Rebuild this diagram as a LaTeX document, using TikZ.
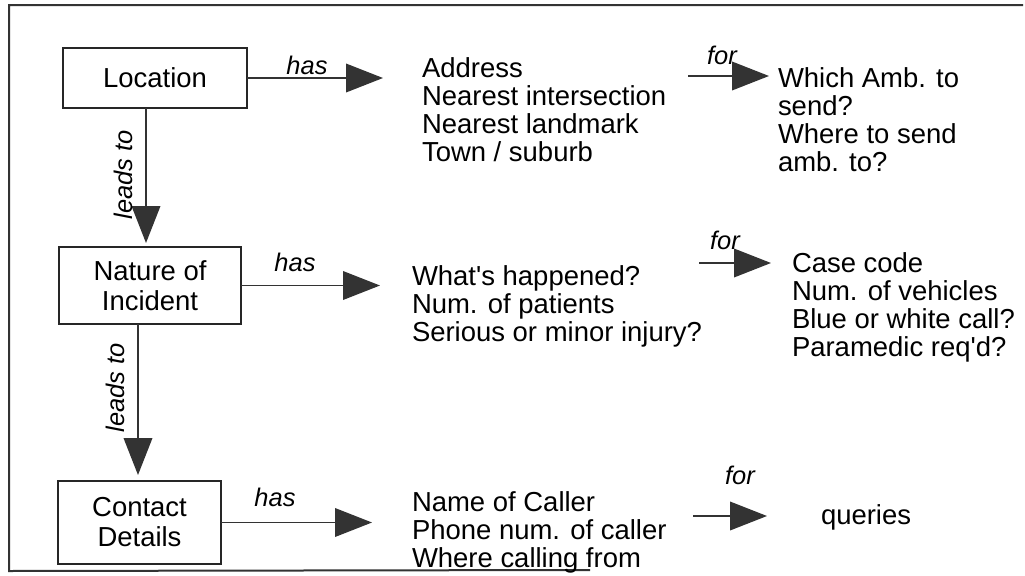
\documentclass[tikz,border=0pt]{standalone}
\usepackage{fontspec}
\setmainfont{Liberation Sans}
\usetikzlibrary{arrows.meta}
\begin{document}
\begin{tikzpicture}[x=0.75pt,y=-0.75pt,
  every node/.style={inner sep=0pt, outer sep=0pt},
  frameline/.style={draw=black!80, line width=1.5pt},
  concept/.style={draw=black!85, line width=1.4pt, align=center,
    font=\fontsize{20.6}{22.5}\selectfont},
  txt/.style={anchor=base west, font=\fontsize{20.6}{20.4}\selectfont},
  rel/.style={font=\itshape\fontsize{19.1}{22}\selectfont},
  arr/.style={draw=black!80, line width=1.1pt,
    -{Triangle[length=27.75pt,width=21.5pt]}}]
\useasboundingbox (0,0) rectangle (1025,575);
% outer frame
\draw[frameline] (590,570) -- (9,571) -- (9,5) -- (1023,5);
% concept boxes
\node[concept, minimum width=138pt, minimum height=45pt] (loc) at (155,78) {Location};
\node[concept, minimum width=136.5pt, minimum height=57.75pt] (nat) at (150,285.5) {Nature of\\Incident};
\node[concept, minimum width=122.25pt, minimum height=62.25pt] (con) at (139.5,522.5) {Contact\\Details};
% text blocks
\node[txt] (addr) at (422,77) {\begin{tabular}[t]{@{}l@{}}Address\\Nearest intersection\\Nearest landmark\\Town / suburb\end{tabular}};
\node[txt, font=\fontsize{20.6}{20.8}\selectfont] (amb) at (778,87) {\begin{tabular}[t]{@{}l@{}}Which Amb. to\\send?\\Where to send\\amb. to?\end{tabular}};
\node[txt] (what) at (412,285) {\begin{tabular}[t]{@{}l@{}}What\textquotesingle s happened?\\Num. of patients\\Serious or minor injury?\end{tabular}};
\node[txt, font=\fontsize{20.6}{21}\selectfont] (case) at (792,272) {\begin{tabular}[t]{@{}l@{}}Case code\\Num. of vehicles\\Blue or white call?\\Paramedic req\textquotesingle d?\end{tabular}};
\node[txt] (name) at (412,511) {\begin{tabular}[t]{@{}l@{}}Name of Caller\\Phone num. of caller\\Where calling from\end{tabular}};
\node[txt] (que) at (821,524) {queries};
% coordinates for free arrow ends
\coordinate (h1) at (383,78);
\coordinate (h2) at (380,285.5);
\coordinate (h3) at (372,522.5);
\coordinate (f1s) at (688,76);
\coordinate (f1e) at (769,76);
\coordinate (f2s) at (699,263);
\coordinate (f2e) at (771,263);
\coordinate (f3s) at (693,516);
\coordinate (f3e) at (767,516);
\coordinate (v1) at (146,0);
\coordinate (v2) at (138,0);
% connectors
\draw[arr] (loc.east) -- (h1);
\draw[arr] (nat.east) -- (h2);
\draw[arr] (con.east) -- (h3);
\draw[arr] (f1s) -- (f1e);
\draw[arr] (f2s) -- (f2e);
\draw[arr] (f3s) -- (f3e);
\draw[arr, shorten >=3pt] (loc.south -| v1) -- (nat.north -| v1);
\draw[arr, shorten >=4.5pt] (nat.south -| v2) -- (con.north -| v2);
% labels
\node[rel] at (307,65) {has};
\node[rel] at (295,262) {has};
\node[rel] at (275,497) {has};
\node[rel] at (722,55) {for};
\node[rel] at (725,240) {for};
\node[rel] at (740,475) {for};
\node[rel, rotate=90] at (123,175) {leads to};
\node[rel, rotate=90] at (115,388) {leads to};
\end{tikzpicture}
\end{document}
